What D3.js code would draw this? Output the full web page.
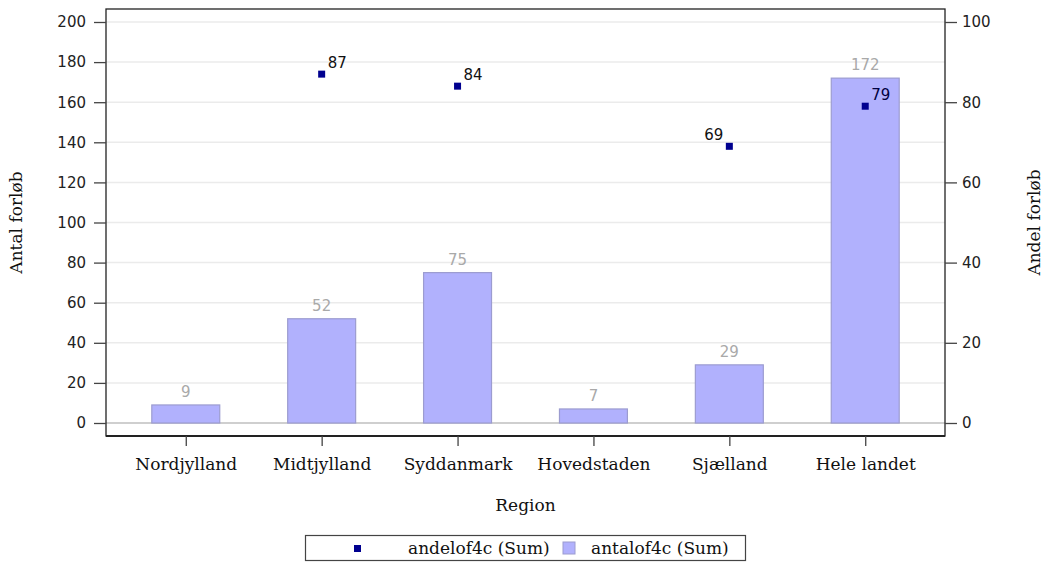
<!DOCTYPE html>
<html>
<head>
<meta charset="utf-8">
<script src="https://cdn.jsdelivr.net/npm/d3@7"></script>
<style>
  body { margin: 0; background: #fff; }
  svg { display: block; }
</style>
</head>
<body>
<svg id="chart" width="1045" height="563"></svg>
<script>
// Regions and the two summed measures per region
const regions = ["Nordjylland", "Midtjylland", "Syddanmark", "Hovedstaden", "Sjælland", "Hele landet"];
const antalValues = [9, 52, 75, 7, 29, 172];          // antalof4c (Sum) – bars, left axis
const andelValues = [null, 87, 84, null, 69, 79];     // andelof4c (Sum) – markers, right axis
const leftTicks = [0, 20, 40, 60, 80, 100, 120, 140, 160, 180, 200];
const rightTicks = [0, 20, 40, 60, 80, 100];
const seriesNames = ["andelof4c (Sum)", "antalof4c (Sum)"];

const svg = d3.select("#chart");
const frame = { left: 106, right: 945, top: 9, bottom: 436 };
const plotTop = 22, plotBottom = 423;

const x = d3.scalePoint().domain(regions).range([frame.left, frame.right]).padding(0.587);
const step = x.step();
const barW = step * 0.5;
const yL = d3.scaleLinear().domain([0, 200]).range([plotBottom, plotTop]);
const yR = d3.scaleLinear().domain([0, 100]).range([plotBottom, plotTop]);

const sans = "DejaVu Sans, Verdana, sans-serif";
const serif = "DejaVu Serif, serif";

// horizontal grid
svg.append("g").selectAll("line").data(leftTicks.filter(d => d > 0)).join("line")
  .attr("x1", frame.left).attr("x2", frame.right)
  .attr("y1", d => yL(d)).attr("y2", d => yL(d))
  .attr("stroke", "#ebebeb").attr("stroke-width", 1.5);

// baseline at zero
svg.append("line")
  .attr("x1", frame.left).attr("x2", frame.right)
  .attr("y1", yL(0)).attr("y2", yL(0))
  .attr("stroke", "#cfcfcf").attr("stroke-width", 2);

// bars
const barData = regions.map((r, i) => ({ r, v: antalValues[i] }));
svg.append("g").selectAll("rect").data(barData).join("rect")
  .attr("x", d => x(d.r) - barW / 2)
  .attr("width", barW)
  .attr("y", d => yL(d.v))
  .attr("height", d => yL(0) - yL(d.v))
  .attr("fill", "#b1b1fd")
  .attr("stroke", "#9c9cd0")
  .attr("stroke-width", 1.2);

// bar value labels
svg.append("g").selectAll("text").data(barData).join("text")
  .attr("x", d => x(d.r))
  .attr("y", d => yL(d.v) - 8)
  .attr("text-anchor", "middle")
  .attr("font-family", sans).attr("font-size", 15)
  .attr("fill", "#a9a9a9")
  .text(d => d.v);

// markers
const ptData = regions.map((r, i) => ({ r, v: andelValues[i] })).filter(d => d.v != null);
const ms = 7;
svg.append("g").selectAll("rect").data(ptData).join("rect")
  .attr("x", d => x(d.r) - ms / 2)
  .attr("y", d => yR(d.v) - ms / 2)
  .attr("width", ms).attr("height", ms)
  .attr("fill", "#00008f");

// marker labels (Sjælland label sits on the left to avoid clutter)
svg.append("g").selectAll("text").data(ptData).join("text")
  .attr("x", d => d.r === "Sjælland" ? x(d.r) - 6 : x(d.r) + 6)
  .attr("y", d => yR(d.v) - 6)
  .attr("text-anchor", d => d.r === "Sjælland" ? "end" : "start")
  .attr("font-family", sans).attr("font-size", 15)
  .attr("fill", d => d.r === "Hele landet" ? "#000040" : "#111")
  .text(d => d.v);

// frame
svg.append("rect")
  .attr("x", frame.left).attr("y", frame.top)
  .attr("width", frame.right - frame.left).attr("height", frame.bottom - frame.top)
  .attr("fill", "none").attr("stroke", "#222").attr("stroke-width", 1.3);
svg.append("line")
  .attr("x1", frame.left).attr("x2", frame.right)
  .attr("y1", frame.bottom).attr("y2", frame.bottom)
  .attr("stroke", "#222").attr("stroke-width", 2.2);

// left axis
const gL = svg.append("g").attr("transform", `translate(${frame.left},0)`)
  .call(d3.axisLeft(yL).tickValues(leftTicks).tickSize(12).tickPadding(8));
// right axis
const gR = svg.append("g").attr("transform", `translate(${frame.right},0)`)
  .call(d3.axisRight(yR).tickValues(rightTicks).tickSize(12).tickPadding(5));
// bottom axis
const gB = svg.append("g").attr("transform", `translate(0,${frame.bottom})`)
  .call(d3.axisBottom(x).tickSize(10).tickPadding(12));

[gL, gR, gB].forEach(g => {
  g.select(".domain").remove();
  g.selectAll(".tick line").attr("stroke", "#444").attr("stroke-width", 1.3);
});
[gL, gR].forEach(g => g.selectAll(".tick text")
  .attr("font-family", sans).attr("font-size", 15).attr("fill", "#222"));
gB.selectAll(".tick text")
  .attr("font-family", serif).attr("font-size", 17).attr("fill", "#111");

// axis titles
svg.append("text")
  .attr("transform", `translate(22,${(frame.top + frame.bottom) / 2}) rotate(-90)`)
  .attr("text-anchor", "middle")
  .attr("font-family", serif).attr("font-size", 17).attr("fill", "#111")
  .text("Antal forløb");
svg.append("text")
  .attr("transform", `translate(1040,${(frame.top + frame.bottom) / 2}) rotate(-90)`)
  .attr("text-anchor", "middle")
  .attr("font-family", serif).attr("font-size", 17).attr("fill", "#111")
  .text("Andel forløb");
svg.append("text")
  .attr("x", (frame.left + frame.right) / 2).attr("y", 511)
  .attr("text-anchor", "middle")
  .attr("font-family", serif).attr("font-size", 17).attr("fill", "#111")
  .text("Region");

// legend
const lg = svg.append("g");
lg.append("rect")
  .attr("x", 305.5).attr("y", 535.5).attr("width", 440).attr("height", 25)
  .attr("fill", "#fff").attr("stroke", "#444").attr("stroke-width", 1.2);
lg.append("rect").attr("x", 354).attr("y", 545).attr("width", ms).attr("height", ms).attr("fill", "#00008f");
lg.append("text").attr("x", 408).attr("y", 554)
  .attr("font-family", serif).attr("font-size", 17).attr("fill", "#111").text(seriesNames[0]);
lg.append("rect").attr("x", 563).attr("y", 542).attr("width", 12).attr("height", 12)
  .attr("fill", "#b1b1fd").attr("stroke", "#9c9cd0");
lg.append("text").attr("x", 591).attr("y", 554)
  .attr("font-family", serif).attr("font-size", 17).attr("fill", "#111").text(seriesNames[1]);
</script>
</body>
</html>
